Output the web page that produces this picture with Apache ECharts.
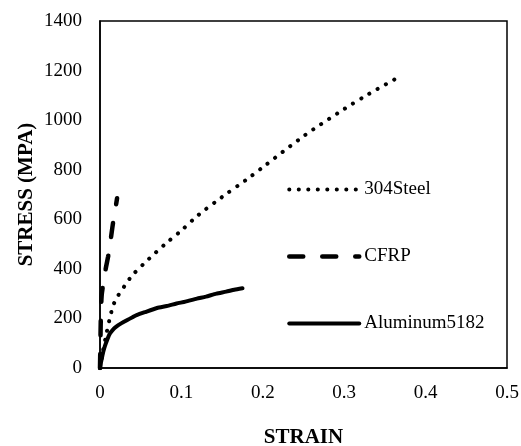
<!DOCTYPE html>
<html>
<head>
<meta charset="utf-8">
<script src="https://cdn.jsdelivr.net/npm/echarts@6/dist/echarts.min.js"></script>
<style>
html,body{margin:0;padding:0;background:#fff;}
#chart{width:521px;height:446px;}
</style>
</head>
<body>
<div id="chart"></div>
<script>
// ---- Data ----
const seriesNames = ['304Steel', 'CFRP', 'Aluminum5182'];

const steelStrain = [0, 0.002, 0.004, 0.008, 0.012, 0.016, 0.02, 0.03, 0.04, 0.06, 0.08, 0.1, 0.12, 0.15, 0.18, 0.2, 0.25, 0.3, 0.33, 0.365];
const steelStress = [0, 40, 75, 140, 200, 250, 280, 330, 375, 440, 500, 555, 615, 690, 760, 810, 935, 1045, 1105, 1170];

const cfrpStrain = [0, 0.0005, 0.001, 0.002, 0.004, 0.007, 0.01, 0.013, 0.016, 0.019, 0.021];
const cfrpStress = [0, 100, 200, 290, 340, 400, 450, 515, 585, 645, 685];

const alStrain = [0, 0.001, 0.002, 0.004, 0.006, 0.009, 0.012, 0.016, 0.02, 0.026, 0.033, 0.04, 0.045, 0.055, 0.07, 0.082, 0.094, 0.105, 0.119, 0.13, 0.143, 0.155, 0.165, 0.175];
const alStress = [0, 20, 35, 65, 88, 115, 138, 155, 167, 180, 193, 205, 213, 225, 242, 250, 260, 268, 280, 288, 300, 308, 316, 322];

const xTicks = { min: 0, max: 0.5, interval: 0.1 };
const yTicks = { min: 0, max: 1400, interval: 200 };

function zip(a, b) { return a.map((v, i) => [v, b[i]]); }

const serif = '"Liberation Serif", "Times New Roman", serif';

const styles = [
  { color: '#000', width: 4, type: [0.1, 9.4], cap: 'round' },
  { color: '#000', width: 4.5, type: [14, 19], cap: 'round' },
  { color: '#000', width: 4, type: 'solid', cap: 'round' }
];

const chart = echarts.init(document.getElementById('chart'), null, { renderer: 'canvas' });
chart.setOption({
  animation: false,
  backgroundColor: '#fff',
  grid: { left: 100, right: 14, top: 21, bottom: 78, containLabel: false, outerBoundsMode: 'none',
    show: true, borderColor: '#000', borderWidth: 1.5, backgroundColor: 'transparent' },
  legend: {
    orient: 'vertical',
    left: 282,
    top: 175,
    itemWidth: 70,
    itemHeight: 20,
    itemGap: 48,
    itemStyle: { opacity: 0 },
    textStyle: { fontFamily: serif, fontSize: 19, color: '#000' },
    data: seriesNames.map((n, i) => ({ name: n, lineStyle: Object.assign({}, styles[i]), itemStyle: { opacity: 0 } }))
  },
  xAxis: {
    type: 'value',
    min: xTicks.min, max: xTicks.max, interval: xTicks.interval,
    name: 'STRAIN',
    nameLocation: 'middle',
    nameGap: 59,
    nameMoveOverlap: false,
    nameTextStyle: { fontFamily: serif, fontSize: 21, fontWeight: 'bold', color: '#000' },
    axisLine: { show: true, onZero: false, lineStyle: { color: '#000', width: 1.5 } },
    axisTick: { show: false },
    splitLine: { show: false },
    axisLabel: { fontFamily: serif, fontSize: 19, color: '#000', margin: 16,
      formatter: v => (v === 0 ? '0' : String(+v.toFixed(1))) }
  },
  yAxis: {
    type: 'value',
    min: yTicks.min, max: yTicks.max, interval: yTicks.interval,
    name: 'STRESS (MPA)',
    nameLocation: 'middle',
    nameGap: 63,
    nameMoveOverlap: false,
    nameTextStyle: { fontFamily: serif, fontSize: 21, fontWeight: 'bold', color: '#000' },
    axisLine: { show: true, onZero: false, lineStyle: { color: '#000', width: 1.5 } },
    axisTick: { show: false },
    splitLine: { show: false },
    axisLabel: { fontFamily: serif, fontSize: 19, color: '#000', margin: 18, formatter: v => String(v) }
  },
  series: [
    {
      name: seriesNames[0], type: 'line', data: zip(steelStrain, steelStress),
      symbol: 'none', smooth: 0.3,
      lineStyle: styles[0],
      itemStyle: { color: '#000' }
    },
    {
      name: seriesNames[1], type: 'line', data: zip(cfrpStrain, cfrpStress),
      symbol: 'none', smooth: 0.3,
      lineStyle: styles[1],
      itemStyle: { color: '#000' }
    },
    {
      name: seriesNames[2], type: 'line', data: zip(alStrain, alStress),
      symbol: 'none', smooth: 0.2,
      lineStyle: styles[2],
      itemStyle: { color: '#000' }
    }
  ]
});
</script>
</body>
</html>
